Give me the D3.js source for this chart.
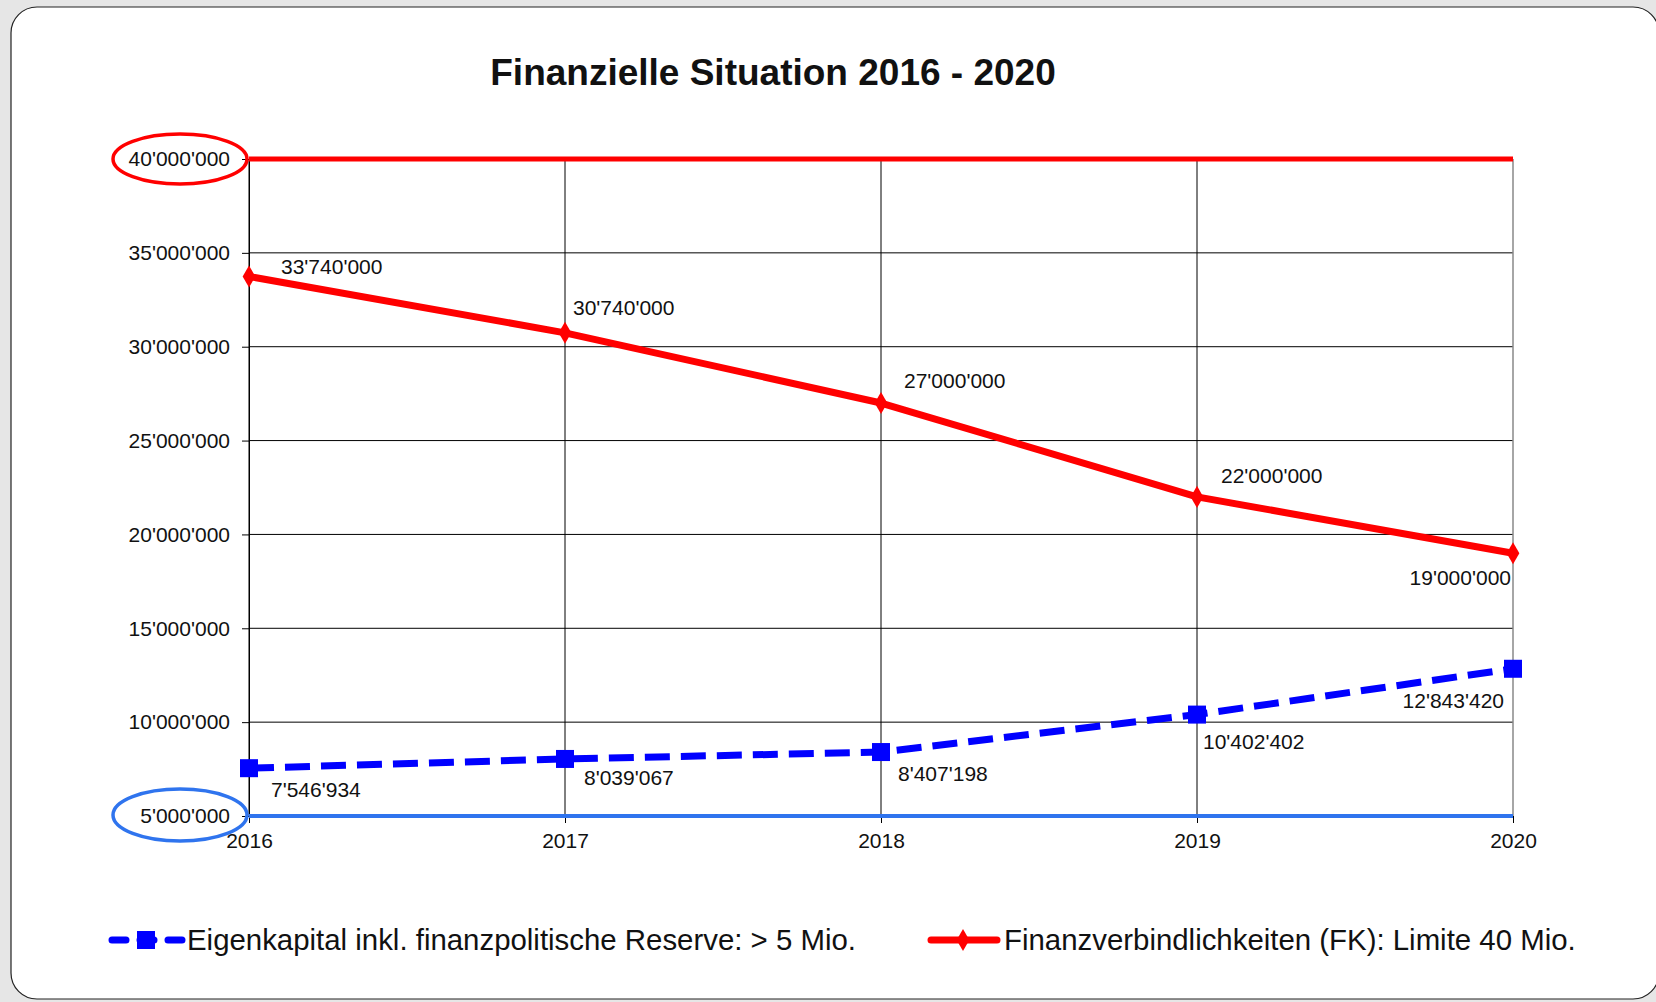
<!DOCTYPE html>
<meta charset="utf-8">
<style>
body { margin: 0; background: #e6e6e6; }
text { font-family: 'Liberation Sans', Arial, sans-serif; fill: #111; }
.tick text { font-size: 21px; }
.lbl { font-size: 21px; }
.title { font-size: 37px; font-weight: bold; }
.legend text { font-size: 29.4px; }
</style>
<svg id="chart" width="1656" height="1002"></svg>
<script src="https://d3js.org/d3.v7.min.js"></script>
<script>

var years = [2016, 2017, 2018, 2019, 2020];
var eigenkapital = [7546934, 8039067, 8407198, 10402402, 12843420];
var finanzverb = [33740000, 30740000, 27000000, 22000000, 19000000];
var yTicks = [5000000, 10000000, 15000000, 20000000, 25000000, 30000000, 35000000, 40000000];
var limitFK = 40000000;
var limitEK = 5000000;
var seriesNames = ["Eigenkapital inkl. finanzpolitische Reserve: > 5 Mio.", "Finanzverbindlichkeiten (FK): Limite 40 Mio."];

// label offsets (like Excel's label placement), dx/dy relative to the point
var redLabelPos = [[32, -10, "start"], [8, -25, "start"], [23, -22, "start"], [24, -21, "start"], [-2, 24, "end"]];
var blueLabelPos = [[22, 21, "start"], [19, 19, "start"], [17, 22, "start"], [6, 27, "start"], [-9, 32, "end"]];

var svg = d3.select("#chart");

svg.append("rect")
    .attr("x", 11).attr("y", 7)
    .attr("width", 1648).attr("height", 992)
    .attr("rx", 26)
    .attr("fill", "#fff")
    .attr("stroke", "#222").attr("stroke-width", 1.2);

var fmt = function(v) { return d3.format(",")(v).replace(/,/g, "'"); };

var x = d3.scalePoint().domain(years).range([249, 1513]);
var y = d3.scaleLinear().domain([5000000, 40000000]).range([816, 159]);

svg.append("text").attr("class", "title")
    .attr("x", 773).attr("y", 85)
    .attr("text-anchor", "middle")
    .text("Finanzielle Situation 2016 - 2020");

// gridlines
svg.append("g").selectAll("line")
    .data(yTicks.slice(1, -1))
    .enter().append("line")
    .attr("x1", 249).attr("x2", 1513)
    .attr("y1", function(d) { return y(d); }).attr("y2", function(d) { return y(d); })
    .attr("stroke", "#000").attr("stroke-width", 1);

svg.append("g").selectAll("line")
    .data(years)
    .enter().append("line")
    .attr("x1", function(d) { return x(d); }).attr("x2", function(d) { return x(d); })
    .attr("y1", y(40000000)).attr("y2", y(5000000))
    .attr("stroke", function(d, i) { return i == years.length - 1 ? "#888" : "#000"; })
    .attr("stroke-width", function(d, i) { return i == years.length - 1 ? 1.5 : 1; });

// axes
var yAxis = svg.append("g")
    .attr("transform", "translate(249,0)")
    .call(d3.axisLeft(y).tickValues(yTicks).tickFormat(fmt).tickSize(7).tickPadding(12));
yAxis.select(".domain").attr("stroke", "#000");

var xAxis = svg.append("g")
    .attr("transform", "translate(0," + y(5000000) + ")")
    .call(d3.axisBottom(x).tickSize(7).tickPadding(7));
xAxis.select(".domain").remove();
xAxis.selectAll(".tick text").attr("dy", "0.85em");

// limit lines
svg.append("line")
    .attr("x1", 249).attr("x2", 1513)
    .attr("y1", y(limitFK)).attr("y2", y(limitFK))
    .attr("stroke", "#ff0000").attr("stroke-width", 5);
svg.append("line")
    .attr("x1", 249).attr("x2", 1513)
    .attr("y1", y(limitEK)).attr("y2", y(limitEK))
    .attr("stroke", "#2f74ee").attr("stroke-width", 4);

// ellipses round the limit labels
svg.append("ellipse")
    .attr("cx", 180).attr("cy", y(limitFK))
    .attr("rx", 67).attr("ry", 25)
    .attr("fill", "none").attr("stroke", "#ff0000").attr("stroke-width", 3.5);
svg.append("ellipse")
    .attr("cx", 180).attr("cy", y(limitEK) - 1)
    .attr("rx", 67).attr("ry", 26)
    .attr("fill", "none").attr("stroke", "#2f74ee").attr("stroke-width", 3.5);

var line = d3.line()
    .x(function(d, i) { return x(years[i]); })
    .y(function(d) { return y(d); });

// Finanzverbindlichkeiten
svg.append("path")
    .datum(finanzverb)
    .attr("d", line)
    .attr("fill", "none").attr("stroke", "#ff0000").attr("stroke-width", 7)
    .attr("stroke-linejoin", "round");

var diamond = d3.symbol().type(d3.symbolDiamond).size(140);
svg.append("g").selectAll("path")
    .data(finanzverb)
    .enter().append("path")
    .attr("d", diamond)
    .attr("transform", function(d, i) { return "translate(" + x(years[i]) + "," + y(d) + ")"; })
    .attr("fill", "#ff0000");

// Eigenkapital
svg.append("path")
    .datum(eigenkapital)
    .attr("d", line)
    .attr("fill", "none").attr("stroke", "#0000ff").attr("stroke-width", 7)
    .attr("stroke-dasharray", "25,11");

svg.append("g").selectAll("rect")
    .data(eigenkapital)
    .enter().append("rect")
    .attr("x", function(d, i) { return x(years[i]) - 9; })
    .attr("y", function(d) { return y(d) - 9; })
    .attr("width", 18).attr("height", 18)
    .attr("fill", "#0000ff");

// data labels
svg.append("g").selectAll("text")
    .data(finanzverb)
    .enter().append("text")
    .attr("class", "lbl")
    .attr("x", function(d, i) { return x(years[i]) + redLabelPos[i][0]; })
    .attr("y", function(d, i) { return y(d) + redLabelPos[i][1]; })
    .attr("dy", "0.35em")
    .attr("text-anchor", function(d, i) { return redLabelPos[i][2]; })
    .text(fmt);

svg.append("g").selectAll("text")
    .data(eigenkapital)
    .enter().append("text")
    .attr("class", "lbl")
    .attr("x", function(d, i) { return x(years[i]) + blueLabelPos[i][0]; })
    .attr("y", function(d, i) { return y(d) + blueLabelPos[i][1]; })
    .attr("dy", "0.35em")
    .attr("text-anchor", function(d, i) { return blueLabelPos[i][2]; })
    .text(fmt);

// legend
var legend = svg.append("g").attr("class", "legend");
var ly = 940;

legend.append("line")
    .attr("x1", 112).attr("x2", 182).attr("y1", ly).attr("y2", ly)
    .attr("stroke", "#0000ff").attr("stroke-width", 7)
    .attr("stroke-linecap", "round").attr("stroke-dasharray", "14,14");
legend.append("rect")
    .attr("x", 137).attr("y", ly - 9).attr("width", 18).attr("height", 18)
    .attr("fill", "#0000ff");
legend.append("text")
    .attr("x", 187).attr("y", ly).attr("dy", "0.35em")
    .text(seriesNames[0]);

legend.append("line")
    .attr("x1", 931).attr("x2", 997).attr("y1", ly).attr("y2", ly)
    .attr("stroke", "#ff0000").attr("stroke-width", 7)
    .attr("stroke-linecap", "round");
legend.append("path")
    .attr("d", diamond)
    .attr("transform", "translate(963," + ly + ")")
    .attr("fill", "#ff0000");
legend.append("text")
    .attr("x", 1004).attr("y", ly).attr("dy", "0.35em")
    .text(seriesNames[1]);

</script>
